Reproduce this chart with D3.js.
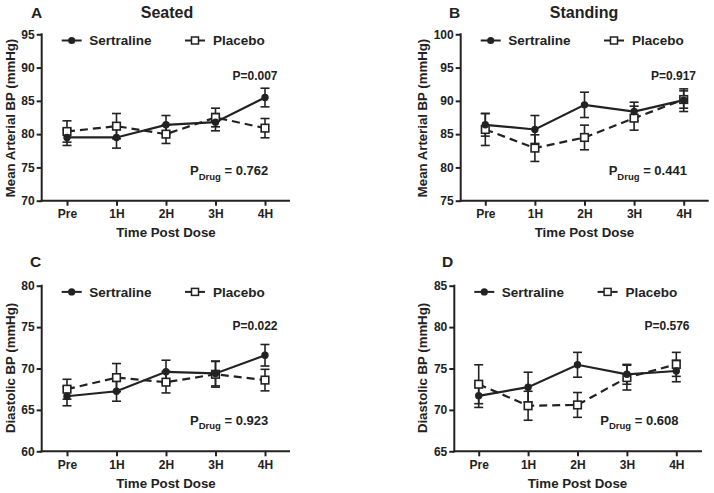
<!DOCTYPE html>
<html>
<head>
<meta charset="utf-8">
<script src="https://cdn.jsdelivr.net/npm/d3@7"></script>
<style>
  html, body { margin: 0; padding: 0; background: #fff; }
  svg text { font-family: "Liberation Sans", Arial, Helvetica, sans-serif; font-weight: bold; fill: #222; }
</style>
</head>
<body>
<svg id="chart" width="714" height="493"></svg>
<script>
// ---------------- DATA ----------------
const categories = ["Pre", "1H", "2H", "3H", "4H"];
const seriesNames = ["Sertraline", "Placebo"];

// Panel A: Seated, Mean Arterial BP
const sertA = [79.5, 79.5, 81.4, 81.8, 85.5];
const sertAErr = [1.2, 1.6, 1.4, 1.3, 1.4];
const placA = [80.4, 81.2, 80.0, 82.5, 80.9];
const placAErr = [1.6, 1.9, 1.4, 1.4, 1.45];
const ticksA = [70, 75, 80, 85, 90, 95];

// Panel B: Standing, Mean Arterial BP
const sertB = [86.4, 85.7, 89.4, 88.4, 90.1];
const sertBErr = [1.7, 2.1, 1.9, 1.4, 1.7];
const placB = [85.7, 82.9, 84.5, 87.4, 90.2];
const placBErr = [2.4, 2.0, 1.85, 1.8, 1.3];
const ticksB = [75, 80, 85, 90, 95, 100];

// Panel C: Seated, Diastolic BP
const sertC = [66.65, 67.25, 69.6, 69.4, 71.6];
const sertCErr = [1.15, 1.2, 1.4, 1.5, 1.3];
const placC = [67.5, 68.9, 68.35, 69.3, 68.6];
const placCErr = [1.2, 1.7, 1.3, 1.55, 1.3];
const ticksC = [60, 65, 70, 75, 80];

// Panel D: Standing, Diastolic BP
const sertD = [71.7, 72.75, 75.45, 74.3, 74.7];
const sertDErr = [1.4, 1.8, 1.5, 1.2, 1.3];
const placD = [73.1, 70.5, 70.6, 73.9, 75.5];
const placDErr = [2.35, 1.75, 1.5, 1.5, 1.45];
const ticksD = [65, 70, 75, 80, 85];

const letters = ["A", "B", "C", "D"];
const titles = ["Seated", "Standing", "", ""];
const yTitles = ["Mean Arterial BP (mmHg)", "Mean Arterial BP (mmHg)", "Diastolic BP (mmHg)", "Diastolic BP (mmHg)"];
const xTitle = "Time Post Dose";
const pValues = ["P=0.007", "P=0.917", "P=0.022", "P=0.576"];
const pDrugValues = ["0.762", "0.441", "0.923", "0.608"];

// ---------------- LAYOUT ----------------
const panels = [
  { sert: sertA, sertErr: sertAErr, plac: placA, placErr: placAErr, ticks: ticksA,
    axisX: 41.7, xRange: [67, 265], xEnd: 290, yRange: [200.7, 34.3],
    letterX: 31, letterY: 17.5, titleX: 167, titleY: 17.5, yTitleX: 10.5, yTitleY: 118,
    pX: 255, pY: 80, pdX: 190, pdY: 175 },
  { sert: sertB, sertErr: sertBErr, plac: placB, placErr: placBErr, ticks: ticksB,
    axisX: 460.7, xRange: [485.3, 683.7], xEnd: 708.7, yRange: [200.7, 34.3],
    letterX: 449, letterY: 17.5, titleX: 584, titleY: 17.5, yTitleX: 422, yTitleY: 118,
    pX: 673.5, pY: 80, pdX: 608.7, pdY: 175 },
  { sert: sertC, sertErr: sertCErr, plac: placC, placErr: placCErr, ticks: ticksC,
    axisX: 41.7, xRange: [67, 265], xEnd: 290, yRange: [451.3, 285.7],
    letterX: 30, letterY: 266.7, titleX: 167, titleY: 266.7, yTitleX: 10.5, yTitleY: 368,
    pX: 255, pY: 330, pdX: 190, pdY: 424.5 },
  { sert: sertD, sertErr: sertDErr, plac: placD, placErr: placDErr, ticks: ticksD,
    axisX: 454.3, xRange: [478.7, 676.3], xEnd: 702, yRange: [451.3, 285.7],
    letterX: 442, letterY: 266.7, titleX: 584, titleY: 266.7, yTitleX: 422, yTitleY: 368,
    pX: 667, pY: 330, pdX: 600.3, pdY: 424.5 }
];

const ink = "#222";
const svg = d3.select("#chart");

panels.forEach((p, i) => {
  const g = svg.append("g");
  const x = d3.scalePoint().domain(categories).range(p.xRange).padding(0);
  const y = d3.scaleLinear().domain(d3.extent(p.ticks)).range(p.yRange);
  const yBottom = p.yRange[0];

  // Y axis
  const yAx = g.append("g").attr("transform", `translate(${p.axisX},0)`)
    .call(d3.axisLeft(y).tickValues(p.ticks).tickSize(5).tickSizeOuter(0).tickPadding(2));
  yAx.select(".domain").remove();
  yAx.selectAll(".tick line").attr("stroke", ink).attr("stroke-width", 2);
  yAx.selectAll(".tick text").attr("font-size", 12).attr("fill", ink)
    .style("font-family", "'Liberation Sans', Arial, sans-serif").style("font-weight", "bold");
  g.append("line").attr("x1", p.axisX).attr("x2", p.axisX)
    .attr("y1", y(p.ticks[p.ticks.length - 1]) - 1).attr("y2", yBottom + 1)
    .attr("stroke", ink).attr("stroke-width", 2);

  // X axis
  const xAx = g.append("g").attr("transform", `translate(0,${yBottom})`)
    .call(d3.axisBottom(x).tickSize(5).tickSizeOuter(0).tickPadding(4));
  xAx.select(".domain").remove();
  xAx.selectAll(".tick line").attr("stroke", ink).attr("stroke-width", 2);
  xAx.selectAll(".tick text").attr("font-size", 12).attr("fill", ink)
    .style("font-family", "'Liberation Sans', Arial, sans-serif").style("font-weight", "bold");
  g.append("line").attr("x1", p.axisX - 1).attr("x2", p.xEnd)
    .attr("y1", yBottom).attr("y2", yBottom)
    .attr("stroke", ink).attr("stroke-width", 2);

  // Axis titles
  g.append("text").attr("x", (p.xRange[0] + p.xRange[1]) / 2).attr("y", yBottom + 36.6)
    .attr("text-anchor", "middle").attr("font-size", 13.3).text(xTitle);
  g.append("text")
    .attr("transform", `translate(${p.yTitleX},${p.yTitleY}) rotate(-90)`)
    .attr("text-anchor", "middle").attr("dy", "0.36em").attr("font-size", 13.2)
    .text(yTitles[i]);

  // Panel letter and title
  g.append("text").attr("x", p.letterX).attr("y", p.letterY).attr("font-size", 15.5).text(letters[i]);
  if (titles[i]) {
    g.append("text").attr("x", p.titleX).attr("y", p.titleY).attr("text-anchor", "middle")
      .attr("font-size", 16).text(titles[i]);
  }

  // Legend
  const ly = p.yRange[1] + 6.2;
  const lg = g.append("g");
  lg.append("line").attr("x1", p.axisX + 20).attr("x2", p.axisX + 40).attr("y1", ly).attr("y2", ly)
    .attr("stroke", ink).attr("stroke-width", 2);
  lg.append("circle").attr("cx", p.axisX + 30).attr("cy", ly).attr("r", 3.6).attr("fill", ink);
  lg.append("text").attr("x", p.axisX + 47.5).attr("y", ly).attr("dy", "0.36em")
    .attr("font-size", 13.5).text(seriesNames[0]);
  lg.append("line").attr("x1", p.axisX + 143.3).attr("x2", p.axisX + 163.3).attr("y1", ly).attr("y2", ly)
    .attr("stroke", ink).attr("stroke-width", 2);
  lg.append("rect").attr("x", p.axisX + 153.3 - 3.5).attr("y", ly - 3.5).attr("width", 7).attr("height", 7)
    .attr("fill", "#fff").attr("stroke", ink).attr("stroke-width", 1.5);
  lg.append("text").attr("x", p.axisX + 171.3).attr("y", ly).attr("dy", "0.36em")
    .attr("font-size", 13.5).text(seriesNames[1]);

  // P values
  g.append("text").attr("x", p.pX).attr("y", p.pY).attr("text-anchor", "middle")
    .attr("font-size", 12).text(pValues[i]);
  const pd = g.append("text").attr("x", p.pdX).attr("y", p.pdY).attr("font-size", 13);
  pd.append("tspan").text("P");
  pd.append("tspan").attr("font-size", 9.5).attr("dy", 4.5).text("Drug");
  pd.append("tspan").attr("dy", -4.5).text(" = " + pDrugValues[i]);

  // Series
  const series = [
    { vals: p.plac, err: p.placErr, dash: "8,5", kind: "square" },
    { vals: p.sert, err: p.sertErr, dash: null, kind: "circle" }
  ];
  const capHalf = 4.5;

  series.forEach(s => {
    const eb = g.append("g");
    s.vals.forEach((v, k) => {
      const cx = x(categories[k]);
      const top = y(v + s.err[k]), bot = y(v - s.err[k]);
      eb.append("line").attr("x1", cx).attr("x2", cx).attr("y1", top).attr("y2", bot)
        .attr("stroke", ink).attr("stroke-width", 1.6);
      eb.append("line").attr("x1", cx - capHalf).attr("x2", cx + capHalf).attr("y1", top).attr("y2", top)
        .attr("stroke", ink).attr("stroke-width", 1.6);
      eb.append("line").attr("x1", cx - capHalf).attr("x2", cx + capHalf).attr("y1", bot).attr("y2", bot)
        .attr("stroke", ink).attr("stroke-width", 1.6);
    });
  });

  series.forEach(s => {
    const line = d3.line().x((d, k) => x(categories[k])).y(d => y(d));
    g.append("path").datum(s.vals).attr("d", line).attr("fill", "none")
      .attr("stroke", ink).attr("stroke-width", 2.2)
      .attr("stroke-dasharray", s.dash);
  });

  series.forEach(s => {
    s.vals.forEach((v, k) => {
      const cx = x(categories[k]), cy = y(v);
      if (s.kind === "square") {
        g.append("rect").attr("x", cx - 3.8).attr("y", cy - 3.8).attr("width", 7.6).attr("height", 7.6)
          .attr("fill", "#fff").attr("stroke", ink).attr("stroke-width", 1.6);
      } else {
        g.append("circle").attr("cx", cx).attr("cy", cy).attr("r", 3.7).attr("fill", ink);
      }
    });
  });
});
</script>
</body>
</html>
